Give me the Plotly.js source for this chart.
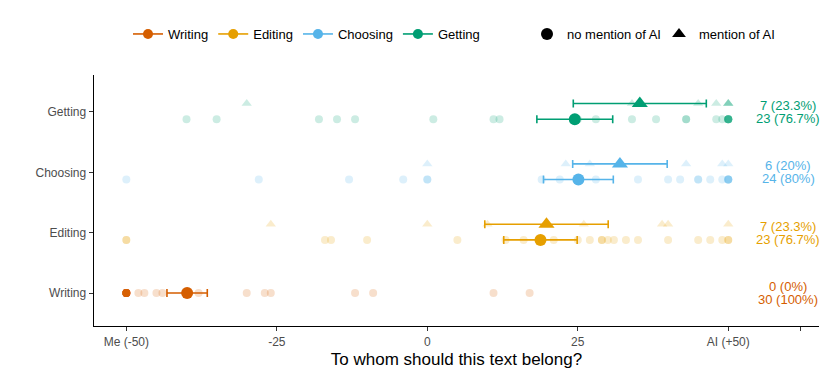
<!DOCTYPE html>
<html>
<head>
<meta charset="utf-8">
<script src="https://cdn.plot.ly/plotly-3.0.1.min.js"></script>
<style>
  html, body { margin: 0; padding: 0; background: #fff; }
  #plot { width: 830px; height: 379px; }
</style>
</head>
<body>
<div id="plot"></div>
<script>
// Categories, bottom to top
const tasks = ['Writing', 'Editing', 'Choosing', 'Getting'];
const taskColors = ['#D55E00', '#E69F00', '#56B4E9', '#009E73'];

// Individual ratings, no mention of AI
const writingNo = [-50, -50, -50, -50, -50, -50, -50, -50, -50, -50, -50, -50, -50, -50, -50, -50, -50, -50,
                   -48, -47, -45, -44, -38, -30, -27, -26, -12, -9, 11, 17];
const editingNo = [-50, -50, -17, -16, -10, 5, 13, 16, 21, 25, 27, 29, 29, 30, 31, 33, 35, 40, 45, 47, 49, 50, 50];
const choosingNo = [-50, -28, -13, -4, 0, 0, 19, 22, 25, 25, 25, 28, 35, 40, 42, 45, 45, 47, 49, 50, 50, 50, 50, 50];
const gettingNo = [-40, -35, -18, -15, -12, 1, 11, 12, 25, 28, 34, 38, 43, 43, 48, 49, 50, 50, 50, 50, 50, 50, 50];

// Individual ratings, mention of AI
const writingAI = [];
const editingAI = [-26, 0, 10, 26, 39, 40, 50];
const choosingAI = [0, 23, 27, 43, 49, 50];
const gettingAI = [-30, 34, 45, 48, 50, 50, 50];

// Group means and error half-widths
const meanNo = [-39.9, 18.8, 25.1, 24.5];
const errNo = [3.35, 6.1, 5.8, 6.3];
const meanAI = [null, 19.8, 32.0, 35.3];
const errAI = [null, 10.25, 7.85, 11.05];

// Axis ticks
const xTickVals = [-50, -25, 0, 25, 50, 62];
const xTickText = ['Me (-50)', '-25', '0', '25', 'AI (+50)', ''];

const noData = [writingNo, editingNo, choosingNo, gettingNo];
const aiData = [writingAI, editingAI, choosingAI, gettingAI];

function hexToRgba(hex, a) {
    const n = parseInt(hex.slice(1), 16);
    return `rgba(${(n >> 16) & 255},${(n >> 8) & 255},${n & 255},${a})`;
}

function pct(n, total) {
    return (Math.round(n / total * 1000) / 10) + '%';
}

const FONT = 'Liberation Sans, Arial, Helvetica, sans-serif';
const traces = [];
const annotations = [];

tasks.forEach((task, i) => {
    const row = i + 1;
    const col = taskColors[i];
    const hasAI = aiData[i].length > 0;
    const yNo = hasAI ? row - 0.12 : row;
    const yAI = row + 0.14;

    // faded raw points
    traces.push({
        x: noData[i], y: noData[i].map(() => yNo),
        type: 'scatter', mode: 'markers', showlegend: false, hoverinfo: 'x',
        marker: { symbol: 'circle', size: 8, color: hexToRgba(col, 0.2) }
    });
    if (hasAI) {
        traces.push({
            x: aiData[i], y: aiData[i].map(() => yAI),
            type: 'scatter', mode: 'markers', showlegend: false, hoverinfo: 'x',
            marker: { symbol: 'triangle-up', size: 9, color: hexToRgba(col, 0.2) }
        });
    }

    // means with error bars
    traces.push({
        x: [meanNo[i]], y: [yNo],
        type: 'scatter', mode: 'markers', showlegend: false,
        marker: { symbol: 'circle', size: 12, color: col },
        error_x: { type: 'data', array: [errNo[i]], color: col, thickness: 1.6, width: 4 }
    });
    if (hasAI) {
        traces.push({
            x: [meanAI[i]], y: [yAI],
            type: 'scatter', mode: 'markers', showlegend: false,
            marker: { symbol: 'triangle-up', size: 14, color: col },
            error_x: { type: 'data', array: [errAI[i]], color: col, thickness: 1.6, width: 4 }
        });
    }

    // counts on the right
    const total = noData[i].length + aiData[i].length;
    annotations.push({
        x: 60, y: row + 0.108, xref: 'x', yref: 'y', showarrow: false,
        text: aiData[i].length + ' (' + pct(aiData[i].length, total) + ')',
        font: { family: FONT, size: 13, color: col }, xanchor: 'center', yanchor: 'middle'
    });
    annotations.push({
        x: 60, y: row - 0.108, xref: 'x', yref: 'y', showarrow: false,
        text: noData[i].length + ' (' + pct(noData[i].length, total) + ')',
        font: { family: FONT, size: 13, color: col }, xanchor: 'center', yanchor: 'middle'
    });
});

// legend entries
tasks.forEach((task, i) => {
    traces.push({
        x: [null], y: [null], type: 'scatter', mode: 'lines+markers', name: task,
        legend: 'legend',
        line: { color: taskColors[i], width: 1.6 },
        marker: { symbol: 'circle', size: 10, color: taskColors[i] }
    });
});
traces.push({
    x: [null], y: [null], type: 'scatter', mode: 'markers', name: 'no mention of AI',
    legend: 'legend2', marker: { symbol: 'circle', size: 12, color: '#000' }
});
traces.push({
    x: [null], y: [null], type: 'scatter', mode: 'markers', name: 'mention of AI',
    legend: 'legend3', marker: { symbol: 'triangle-up', size: 12, color: '#000' }
});

const legendBase = {
    orientation: 'h', xref: 'container', yref: 'container',
    y: 1 - 34 / 379, yanchor: 'middle', xanchor: 'left',
    font: { family: FONT, size: 13, color: '#000' },
    bgcolor: 'rgba(0,0,0,0)', borderwidth: 0
};

const layout = {
    width: 830, height: 379,
    margin: { l: 94, r: 11, t: 75, b: 53 },
    paper_bgcolor: '#fff', plot_bgcolor: '#fff',
    font: { family: FONT },
    showlegend: true,
    legend: Object.assign({}, legendBase, { x: 128 / 830 }),
    legend2: Object.assign({}, legendBase, { x: 527 / 830 }),
    legend3: Object.assign({}, legendBase, { x: 659 / 830 }),
    xaxis: {
        range: [-55.37, 65.07],
        tickvals: xTickVals, ticktext: xTickText,
        ticks: 'outside', ticklen: 4, tickwidth: 1, tickcolor: '#333',
        tickfont: { family: FONT, size: 12, color: '#4d4d4d' },
        showline: true, linecolor: '#000', linewidth: 1.4,
        showgrid: false, zeroline: false,
        title: { text: 'To whom should this text belong?', font: { family: FONT, size: 17, color: '#000' }, standoff: 5 }
    },
    yaxis: {
        range: [0.453, 4.613],
        tickvals: [1, 2, 3, 4], ticktext: tasks,
        ticks: 'outside', ticklen: 4, tickwidth: 1, tickcolor: '#333',
        tickfont: { family: FONT, size: 12, color: '#4d4d4d' },
        showline: true, linecolor: '#000', linewidth: 1.4,
        showgrid: false, zeroline: false
    },
    annotations: annotations
};

Plotly.newPlot('plot', traces, layout, { staticPlot: true, displayModeBar: false });
</script>
</body>
</html>
